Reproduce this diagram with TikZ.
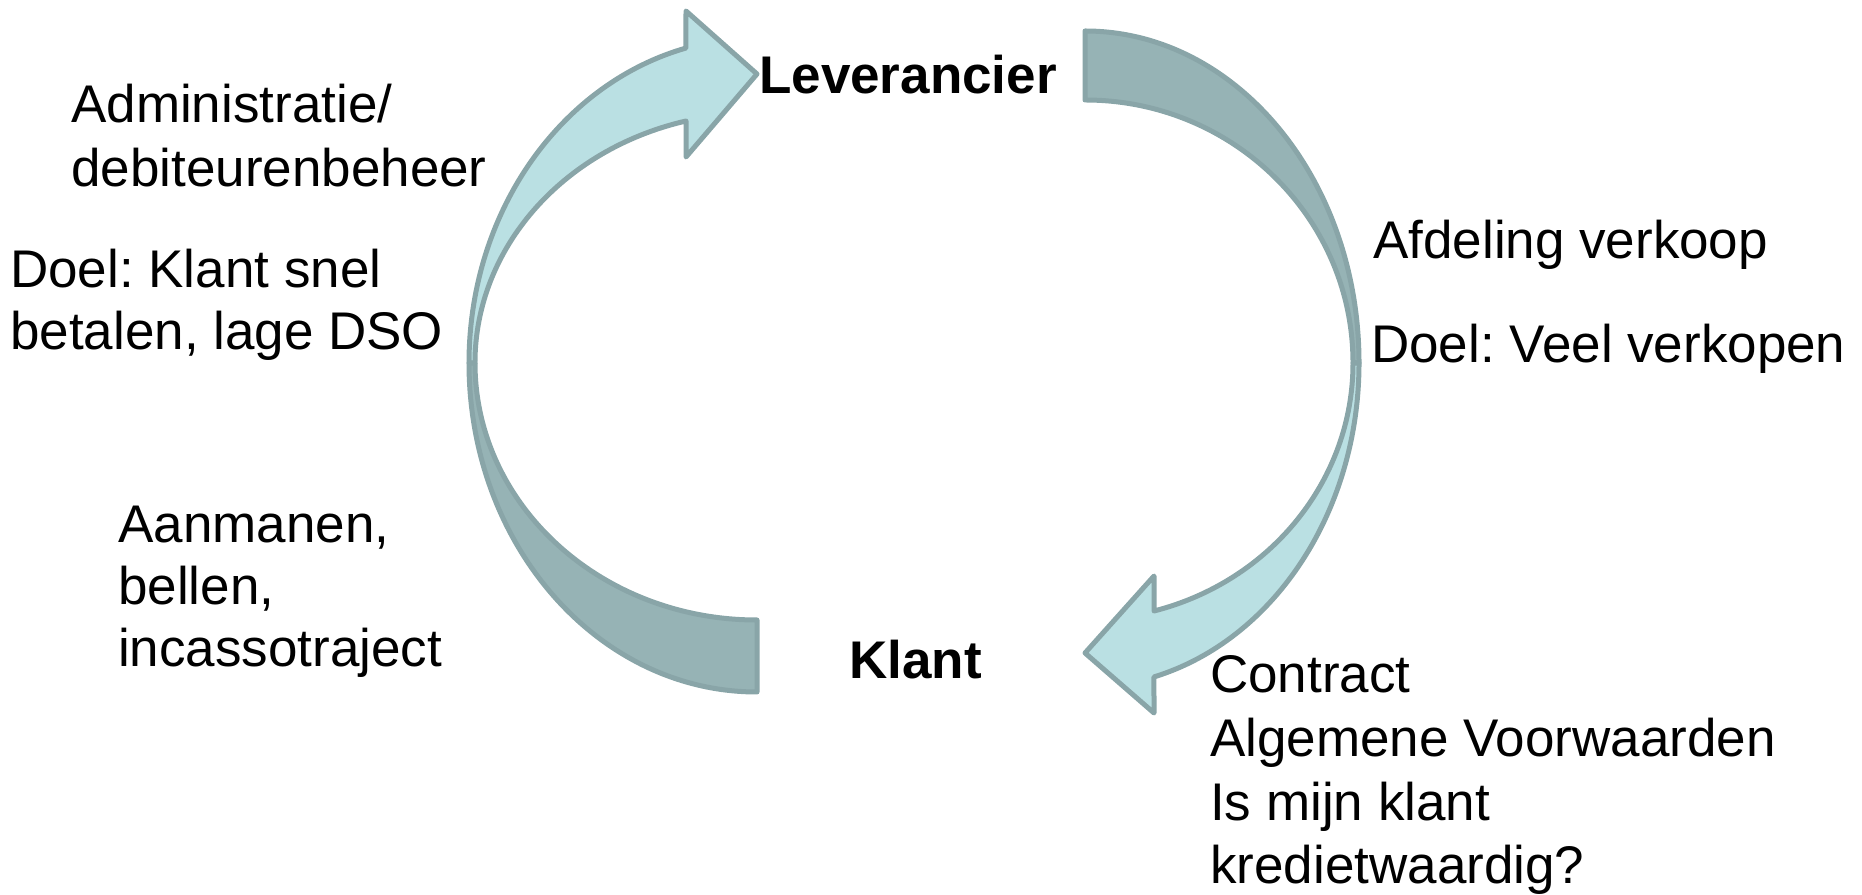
\documentclass[tikz,border=0pt]{standalone}
\usepackage{fontspec}
\setmainfont{Liberation Sans}
\frenchspacing
\definecolor{lightfill}{RGB}{186,224,227}
\definecolor{darkfill}{RGB}{150,179,181}
\definecolor{edgecol}{RGB}{137,165,168}
\begin{document}
\frenchspacing
\begin{tikzpicture}[x=1pt,y=1pt,
  lbl/.style={anchor=base west, inner sep=0pt, font=\fontsize{53}{63}\selectfont\frenchspacing},
  boldlbl/.style={anchor=base west, inner sep=0pt, font=\fontsize{53}{63}\selectfont\bfseries},
  lightarrow/.style={fill=lightfill, draw=edgecol, line width=5pt, line join=round},
  darkarc/.style={fill=darkfill, draw=edgecol, line width=5pt, line join=round}]
\useasboundingbox (0,0) rectangle (1862,894);
% dark arcs
\draw[darkarc] (469,531) arc[start angle=180,end angle=270,x radius=288,y radius=329]
  -- (757,274) arc[start angle=270,end angle=180,x radius=282,y radius=257] -- cycle;
\draw[darkarc] (1085,863) arc[start angle=90,end angle=0,x radius=274,y radius=332]
  -- (1353,531) arc[start angle=0,end angle=90,x radius=268,y radius=263] -- cycle;
% light arrows
\draw[lightarrow] (469,531) arc[start angle=180,end angle=104.3,x radius=288,y radius=325]
  -- (686,883) -- (757,820) -- (686,737) -- (686,773)
  arc[start angle=104.58,end angle=180,x radius=282,y radius=250] -- cycle;
\draw[lightarrow] (1359,531) arc[start angle=0,end angle=-75.42,x radius=274,y radius=324.4]
  -- (1154,181) -- (1085,241) -- (1154,318) -- (1154,283)
  arc[start angle=-75.08,end angle=0,x radius=268,y radius=256.6] -- cycle;
% labels
\node[boldlbl] (lev) at (759,800) {Leverancier};
\node[boldlbl] (klant) at (849,215) {Klant};
\node[lbl] (adm1) at (71,771) {Administratie/};
\node[lbl] (adm2) at (71,707) {debiteurenbeheer};
\node[lbl] (dl1) at (10,606) {Doel: Klant snel};
\node[lbl] (dl2) at (10,544) {betalen, lage DSO};
\node[lbl] (afd) at (1373,635) {Afdeling verkoop};
\node[lbl] (dr) at (1371,531) {Doel: Veel verkopen};
\node[lbl] (aan1) at (118,351) {Aanmanen,};
\node[lbl] (aan2) at (118,289) {bellen,};
\node[lbl] (aan3) at (118,227) {incassotraject};
\node[lbl] (con1) at (1210,201) {Contract};
\node[lbl] (con2) at (1210,137.5) {Algemene Voorwaarden};
\node[lbl] (con3) at (1210,74) {Is mijn klant};
\node[lbl] (con4) at (1210,10.5) {kredietwaardig?};
\end{tikzpicture}
\end{document}
